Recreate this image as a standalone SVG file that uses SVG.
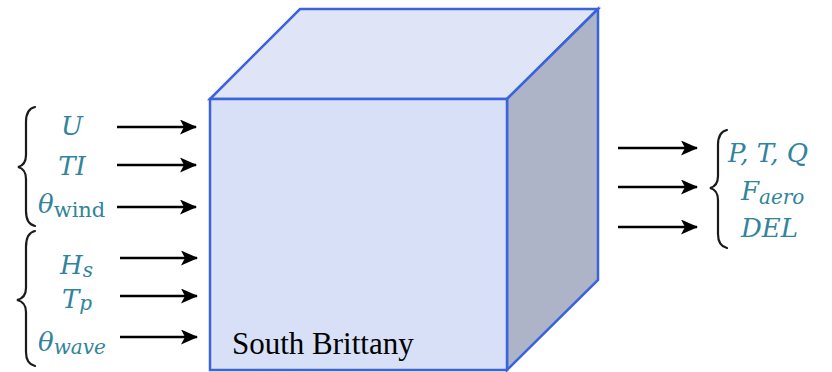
<svg xmlns="http://www.w3.org/2000/svg" width="832" height="372" viewBox="0 0 832 372">
<style>
.face{stroke:#3a63dc;stroke-width:2.5;stroke-linejoin:miter}
.arr{stroke:#000;stroke-width:2.6;fill:none}
.brace{stroke:#1a1a1a;stroke-width:2.2;fill:none;stroke-linecap:round}
.m{font-family:"DejaVu Serif",serif;font-style:italic;font-size:26px;fill:#31849b}
.up{font-style:normal}
.lbl{font-size:31px;fill:#000}
</style>
<defs>
<marker id="ah" markerWidth="17" markerHeight="15" refX="16" refY="7.5" orient="auto" markerUnits="userSpaceOnUse">
<path d="M0,0 L17,7.5 L0,15 L4,7.5 Z" fill="#000"/>
</marker>
</defs>
<g id="cube">
<polygon class="face" points="210,99 300,9 598,9 507,99" fill="#dfe5f7"/>
<polygon class="face" points="507,99 598,9 598,280 507,370" fill="#aeb4c8"/>
<rect class="face" x="210" y="99" width="297" height="271" fill="#d7e0f7"/>
<text class="lbl" font-family="'Liberation Serif', Tinos, 'Times New Roman', 'DejaVu Serif', serif" x="232" y="354">South Brittany</text>
</g>
<g id="inputs">
<path class="brace" d="M35,107 Q26,109 26,122 L26,155 Q26,165 18,167 Q26,169 26,179 L26,211 Q26,224 35,226"/>
<path class="brace" d="M35,231 Q26,233 26,247 L26,288 Q26,298 17,300 Q26,302 26,312 L26,352 Q26,364 35,366"/>
<text class="m" x="72" y="135" text-anchor="middle">U</text>
<text class="m" x="72" y="175" text-anchor="middle">TI</text>
<text class="m" x="38" y="213">θ<tspan class="up" font-size="21" dy="4">wind</tspan></text>
<text class="m" x="60" y="274">H<tspan font-size="20" dy="3">s</tspan></text>
<text class="m" x="62" y="308">T<tspan font-size="20" dy="2">p</tspan></text>
<text class="m" x="38" y="351">θ<tspan font-size="20" dy="3">wave</tspan></text>
</g>
<g id="outputs">
<path class="brace" d="M727,130 Q718,132 718,145 L718,176 Q718,186 710,188 Q718,190 718,200 L718,234 Q718,246 727,248"/>
<text class="m" x="728" y="162">P, T, Q</text>
<text class="m" x="741" y="200">F<tspan font-size="20" dy="4">aero</tspan></text>
<text class="m" x="741" y="237">DEL</text>
</g>
<g id="connectors">
<line class="arr" x1="117" y1="127" x2="196" y2="127" marker-end="url(#ah)"/>
<line class="arr" x1="117" y1="165" x2="196" y2="165" marker-end="url(#ah)"/>
<line class="arr" x1="117" y1="207" x2="196" y2="207" marker-end="url(#ah)"/>
<line class="arr" x1="120" y1="258" x2="197" y2="258" marker-end="url(#ah)"/>
<line class="arr" x1="120" y1="296" x2="197" y2="296" marker-end="url(#ah)"/>
<line class="arr" x1="120" y1="337" x2="197" y2="337" marker-end="url(#ah)"/>
<line class="arr" x1="618" y1="148" x2="697" y2="148" marker-end="url(#ah)"/>
<line class="arr" x1="618" y1="187" x2="697" y2="187" marker-end="url(#ah)"/>
<line class="arr" x1="618" y1="227" x2="697" y2="227" marker-end="url(#ah)"/>
</g>
</svg>
